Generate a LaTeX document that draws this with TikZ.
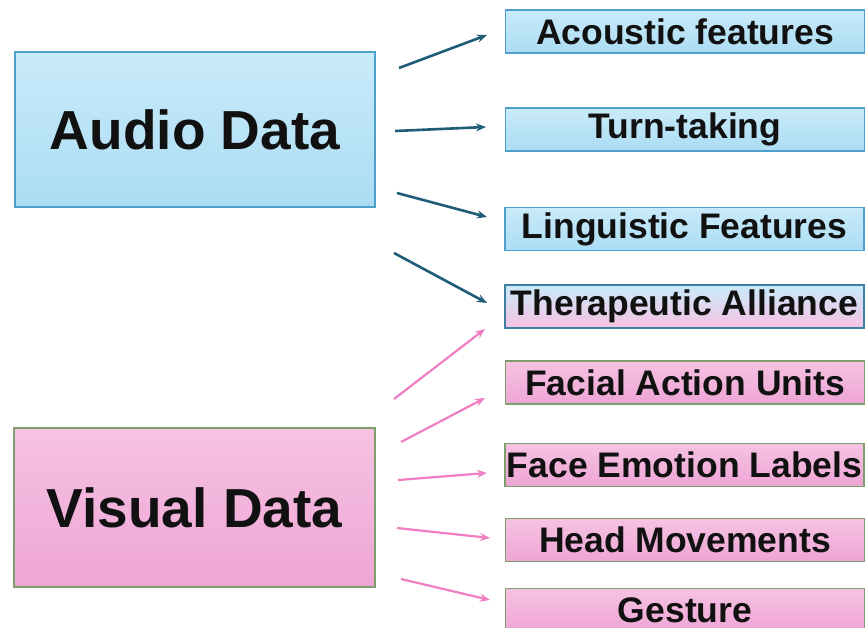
\documentclass[tikz,border=0pt]{standalone}
\usepackage{fontspec}
\setmainfont{Liberation Sans}
\usetikzlibrary{arrows.meta}
\definecolor{bluetop}{HTML}{C9EBFA}
\definecolor{bluebot}{HTML}{ABDCF3}
\definecolor{blueline}{HTML}{4E9FCB}
\definecolor{pinktop}{HTML}{F6C2E2}
\definecolor{pinkbot}{HTML}{EEA5D5}
\definecolor{pinkline}{HTML}{7F9E6E}
\definecolor{arrblue}{HTML}{1F5C78}
\definecolor{arrpink}{HTML}{F07EC2}
\definecolor{txt}{HTML}{111111}
\tikzset{
  bigbox/.style={draw, line width=1.2pt, inner sep=0pt, text=txt,
    font=\bfseries\fontsize{55}{60}\selectfont},
  audiobox/.style={bigbox, draw=blueline, top color=bluetop, bottom color=bluebot},
  visualbox/.style={bigbox, draw=pinkline, top color=pinktop, bottom color=pinkbot},
  smallbox/.style={draw, line width=1.2pt, inner sep=0pt, minimum width=359pt,
    minimum height=43pt, text=txt, font=\bfseries\fontsize{35.5}{38}\selectfont},
  featblue/.style={smallbox, draw=blueline, top color=bluetop, bottom color=bluebot},
  featpink/.style={smallbox, draw=pinkline, top color=pinktop, bottom color=pinkbot},
  featmix/.style={smallbox, draw=blueline!80!black, top color=bluetop, bottom color=pinktop},
  bluearrow/.style={draw=arrblue, line width=2.6pt, -{Stealth[length=10pt,width=8pt]}},
  pinkarrow/.style={draw=arrpink, line width=2.2pt, -{Stealth[length=10pt,width=8pt]}}
}
\begin{document}
\begin{tikzpicture}[x=1pt,y=-1pt]
\useasboundingbox (0,0) rectangle (866,628);
\fill[white] (0,0) rectangle (866,628);
\begin{scope}
\clip (0,0) rectangle (866,628);
\node[audiobox, minimum width=360pt, minimum height=155pt] (audio) at (195,129.5) {Audio Data};
\node[visualbox, minimum width=361pt, minimum height=159pt] (visual) at (194.5,507.5) {Visual Data};

\node[featblue] (acoustic) at (685,31.5) {Acoustic features};
\node[featblue] (turn) at (685,129.5) {Turn-taking};
\node[featblue] (ling) at (684.5,229) {Linguistic Features};
\node[featmix] (thera) at (684.5,306.5) {Therapeutic Alliance};
\node[featpink] (facial) at (685,382.5) {Facial Action Units};
\node[featpink] (emotion) at (684.5,465) {Face Emotion Labels};
\node[featpink] (head) at (685,540) {Head Movements};
\node[featpink] (gesture) at (685,610) {Gesture};
\end{scope}

% arrow end points
\coordinate (a1s) at (399,68);  \coordinate (a1e) at (487,35);
\coordinate (a2s) at (395,131); \coordinate (a2e) at (486,127);
\coordinate (a3s) at (397,193); \coordinate (a3e) at (487,217);
\coordinate (a4s) at (394,253); \coordinate (a4e) at (487,303);
\coordinate (v1s) at (394,399); \coordinate (v1e) at (485,329);
\coordinate (v2s) at (401,442); \coordinate (v2e) at (485,398);
\coordinate (v3s) at (398,480); \coordinate (v3e) at (487,473);
\coordinate (v4s) at (397,528); \coordinate (v4e) at (490,538);
\coordinate (v5s) at (401,579); \coordinate (v5e) at (490,600);

\draw[bluearrow] (a1s) -- (a1e);
\draw[bluearrow] (a2s) -- (a2e);
\draw[bluearrow] (a3s) -- (a3e);
\draw[bluearrow] (a4s) -- (a4e);
\draw[pinkarrow] (v1s) -- (v1e);
\draw[pinkarrow] (v2s) -- (v2e);
\draw[pinkarrow] (v3s) -- (v3e);
\draw[pinkarrow] (v4s) -- (v4e);
\draw[pinkarrow] (v5s) -- (v5e);
\end{tikzpicture}
\end{document}
